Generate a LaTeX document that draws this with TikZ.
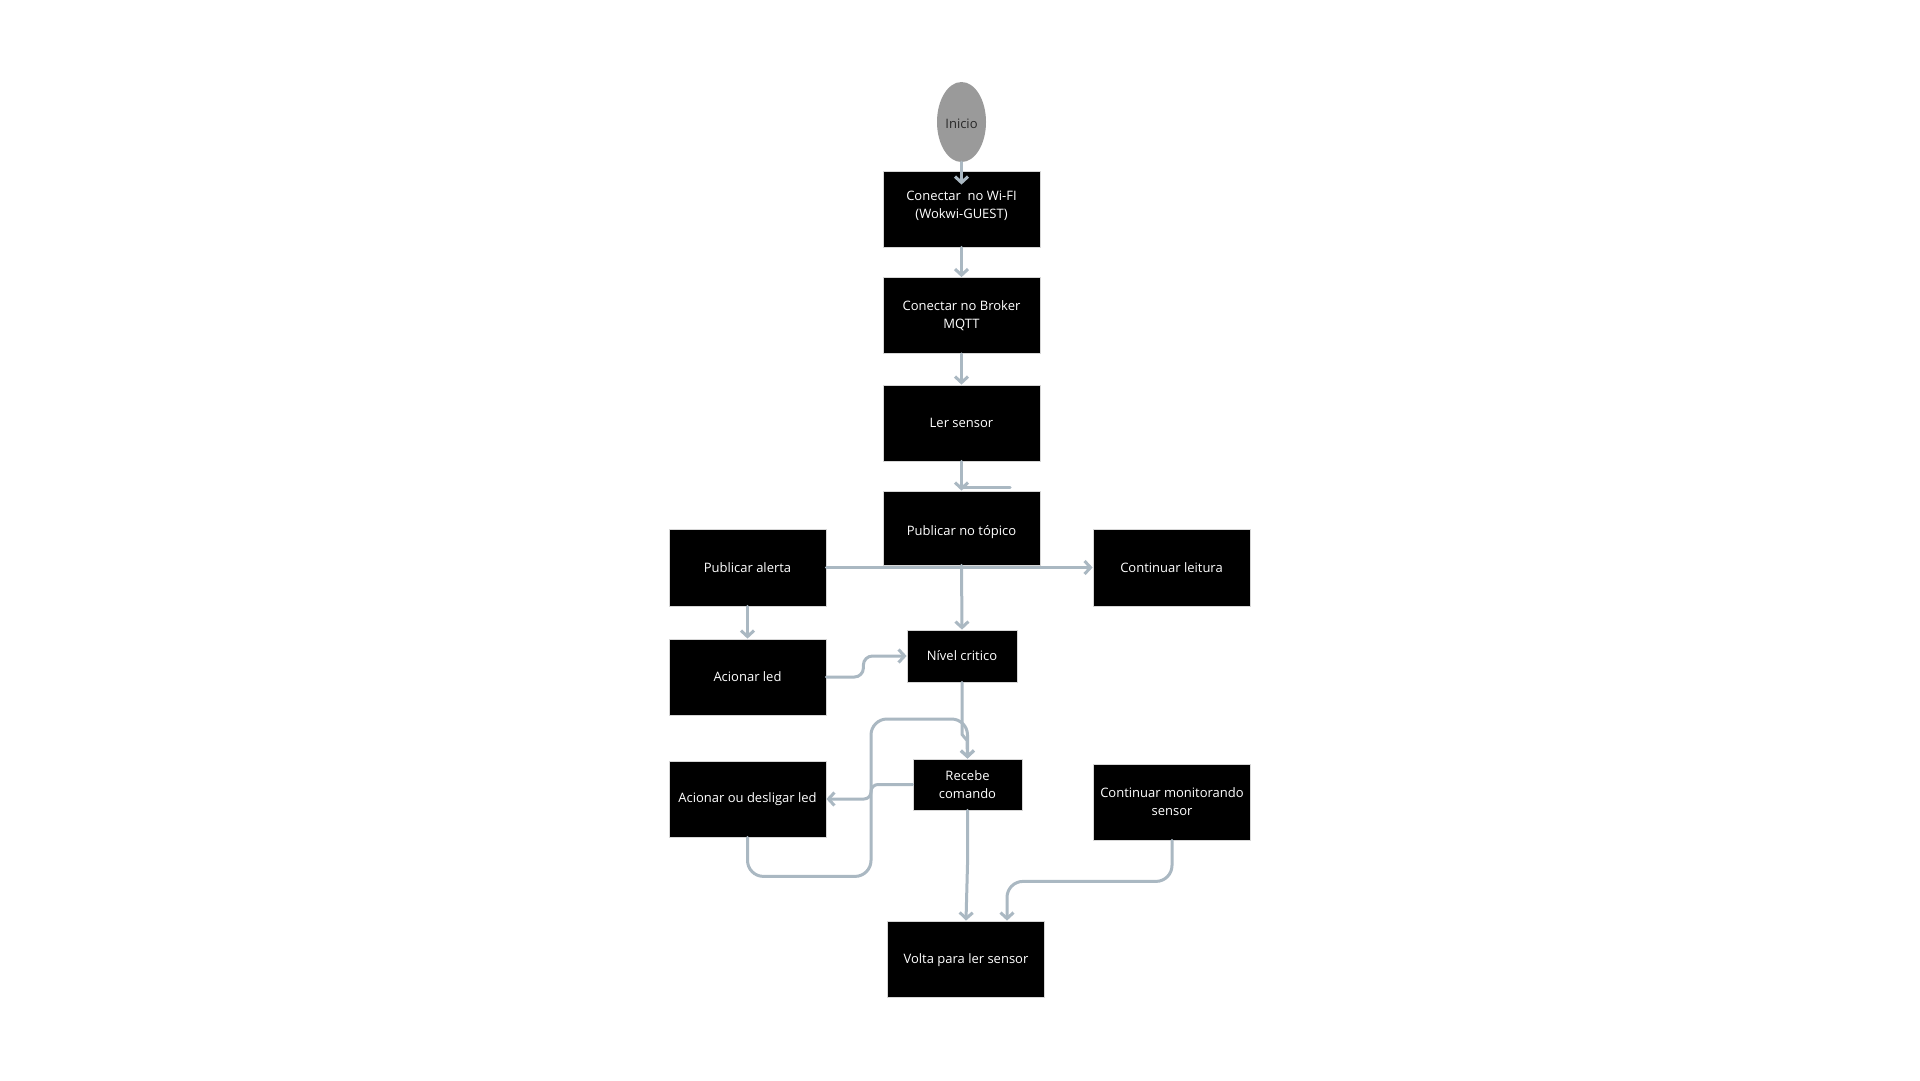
\documentclass[tikz,border=0pt]{standalone}
\usepackage{fontspec}
\setmainfont{Open Sans}
\usetikzlibrary{arrows.meta, shapes.geometric}

\definecolor{color1}{RGB}{0,0,0}
\definecolor{color2}{RGB}{255,255,255}
\definecolor{color3}{RGB}{214,214,214}
\definecolor{color4}{RGB}{154,154,154}
\definecolor{color5}{RGB}{40,40,40}
\definecolor{color6}{RGB}{170,184,194}

\tikzset{
	boxnode/.style={fill=color1, draw=color3, line width=0.8pt, text=color2, align=center, inner sep=2pt, font=\fontsize{13}{18}\selectfont},
	startnode/.style={ellipse, fill=color4, draw=none, text=color5, inner sep=0pt, font=\fontsize{13}{18}\selectfont},
	link/.style={color=color6, line width=3pt, line cap=round, line join=round, -{Straight Barb[length=6pt, width=13pt, line width=3pt]}},
	plainlink/.style={color=color6, line width=3pt, line cap=round, line join=round}
}

\begin{document}
\begin{tikzpicture}[x=1pt, y=-1pt]
	\fill[color2] (0,0) rectangle (1920,1080);
	\useasboundingbox (0,0) rectangle (1920,1080);
	% start
	\node[startnode, minimum width=49pt, minimum height=80pt, text height=13pt, text depth=0pt] (n1) at (961.5,122) {Inicio};
	% main column
	\node[boxnode, minimum width=157pt, minimum height=76pt, text depth=8pt] (n2) at (961.5,209) {Conectar\ \ no Wi-FI\\(Wokwi-GUEST)};
	\node[boxnode, minimum width=157pt, minimum height=76pt] (n3) at (961.5,315.5) {Conectar no Broker\\MQTT};
	\node[boxnode, minimum width=157pt, minimum height=76pt] (n4) at (961.5,423) {Ler sensor};
	\node[boxnode, minimum width=157pt, minimum height=74pt, text height=14pt, text depth=0pt] (n5) at (961.5,528) {Publicar no tópico};
	% side branches
	\node[boxnode, minimum width=157pt, minimum height=77pt] (n6) at (747.5,567.5) {Publicar alerta};
	\node[boxnode, minimum width=157pt, minimum height=77pt] (n7) at (1171.5,567.5) {Continuar leitura};
	\node[boxnode, minimum width=110pt, minimum height=52pt] (n8) at (962,656) {Nível critico};
	\node[boxnode, minimum width=157pt, minimum height=76pt] (n9) at (747.5,677) {Acionar led};
	\node[boxnode, minimum width=109pt, minimum height=51pt] (n10) at (967.5,784.5) {Recebe\\comando};
	\node[boxnode, minimum width=157pt, minimum height=76pt] (n11) at (747.5,799) {Acionar ou desligar led};
	\node[boxnode, minimum width=157pt, minimum height=76pt] (n12) at (1172,802) {Continuar monitorando\\sensor};
	\node[boxnode, minimum width=157pt, minimum height=76pt, text depth=0pt] (n13) at (966,959) {Volta para ler sensor};
	% connectors
	\draw[link] (n1.south) -- ([yshift=-14pt]n2.north);
	\draw[link] (n2.south) -- (n3.north);
	\draw[link] (n3.south) -- (n4.north);
	\draw[link] (n4.south) -- (n5.north);
	\coordinate (c1) at (1010,487);
	\draw[plainlink] (n4.south |- c1) -- (c1);
	\draw[link] (n6.east) -- (n7.west);
	\draw[link] (n5.south) -- (n8.north);
	\draw[link] (n6.south) -- (n9.north);
	\draw[link, rounded corners=9pt] (n9.east) -- ++(37,0) |- (n8.west);
	\draw[link] (n8.south) -- ++(0,52) -- ++(5,6) -- (n10.north);
	\draw[link, rounded corners=16pt] (n11.south) -- ++(0,39) -| (871,719) -| (n10.north);
	\draw[link, rounded corners=7pt] (n10.west) -| (871,799) -- (n11.east);
	\draw[link] (n10.south) -- ++(0,54) -- (n13.north);
	\draw[link, rounded corners=16pt] (n12.south) -- ++(0,41) -| ([xshift=41pt]n13.north);
\end{tikzpicture}
\end{document}
